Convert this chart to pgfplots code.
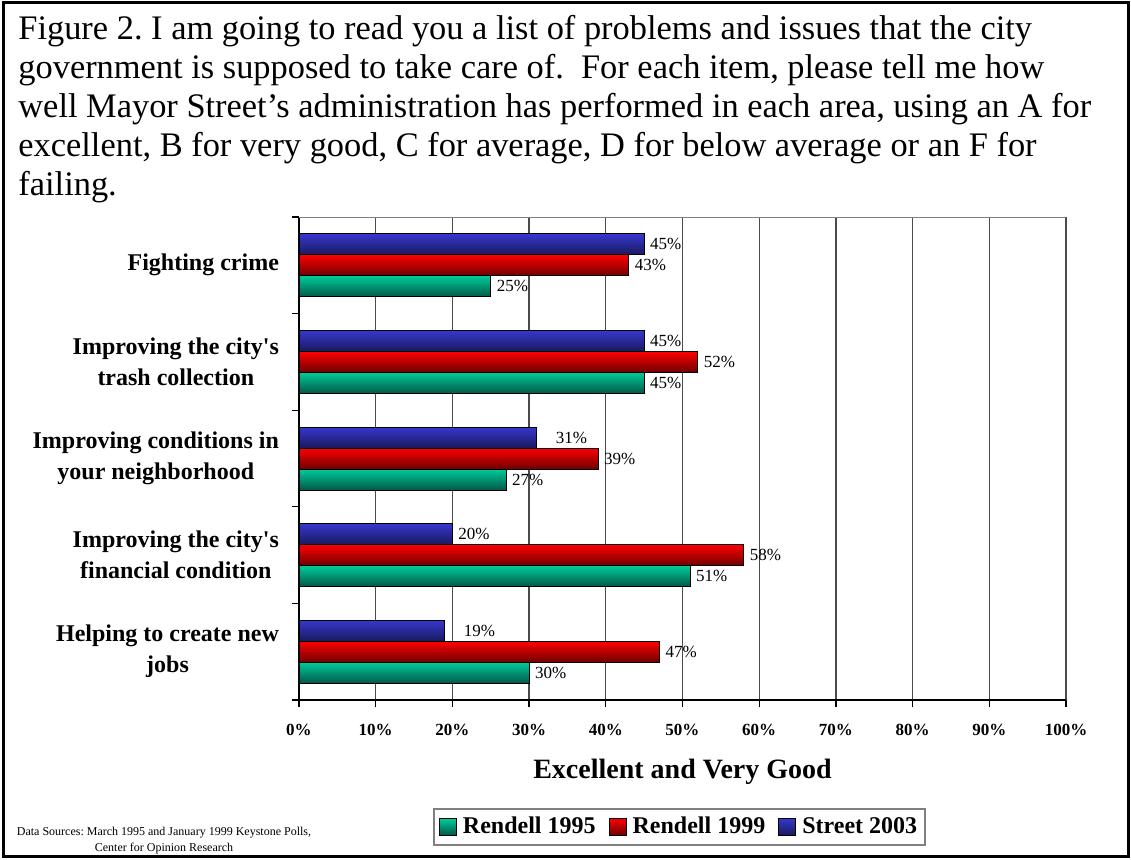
\documentclass[border=0pt]{standalone}
\usepackage{pgfplots}
\pgfplotsset{compat=1.18}
\usepackage{fontspec}
\setmainfont{Liberation Serif}
\definecolor{gtop}{RGB}{0,204,153}
\definecolor{gbot}{RGB}{0,88,72}
\definecolor{rtop}{RGB}{255,0,0}
\definecolor{rbot}{RGB}{110,0,0}
\definecolor{btop}{RGB}{55,55,205}
\definecolor{bbot}{RGB}{25,25,95}
\definecolor{gridc}{RGB}{75,75,75}
\frenchspacing
\begin{document}
\begin{tikzpicture}
\path[use as bounding box] (0,0) rectangle (565.5pt,429.5pt);
\draw[line width=1.5pt] (1.5pt,1.25pt) rectangle (564pt,428pt);
\begin{scope}[every node/.style={anchor=base west, inner sep=0pt, font=\fontsize{17.2}{19}\selectfont}]
\node at (9pt,409.5pt) {Figure 2. I am going to read you a list of problems and issues that the city};
\node at (9pt,390.1pt) {government is supposed to take care of.~ For each item, please tell me how};
\node at (9pt,370.7pt) {well Mayor Street’s administration has performed in each area, using an A for};
\node at (9pt,351.3pt) {excellent, B for very good, C for average, D for below average or an F for};
\node at (9pt,331.9pt) {failing.};
\end{scope}
\node[anchor=base, inner sep=0pt, font=\fontsize{6}{8}\selectfont] at (82pt,12pt) {Data Sources: March 1995 and January 1999 Keystone Polls,};
\node[anchor=base, inner sep=0pt, font=\fontsize{6}{8}\selectfont] at (82pt,4pt) {Center for Opinion Research};
\begin{axis}[
  at={(149.5pt,79.5pt)}, anchor=south west,
  scale only axis, width=383.5pt, height=241.5pt,
  xbar, bar width=10.5pt,
  xmin=0, xmax=100, ymin=-0.5, ymax=4.5,
  axis x line*=bottom, axis y line*=left,
  xtick={0,10,...,100},
  xticklabel={\pgfmathprintnumber{\tick}\%},
  xmajorgrids, grid style={gridc, line width=0.7pt},
  ytick={-0.5,0.5,1.5,2.5,3.5,4.5},
  y tick label as interval,
  yticklabels={Helping to create new\\jobs, Improving the city\textquotesingle s\\financial condition, Improving conditions in\\your neighborhood, Improving the city\textquotesingle s\\trash collection, Fighting crime},
  yticklabel style={align=center, font=\bfseries\fontsize{12}{15.5}\selectfont, xshift=-3pt},
  xticklabel style={font=\bfseries\fontsize{8.5}{10}\selectfont, yshift=-5pt},
  tick align=outside, major tick length=3.5pt,
  tick style={black, line width=0.6pt},
  axis line style={black, line width=0.8pt},
  /pgf/number format/assume math mode=true,
  point meta=x,
  nodes near coords={\pgfmathprintnumber{\pgfplotspointmeta}\%},
  every node near coord/.append style={font=\fontsize{8.5}{10}\selectfont, anchor=west, xshift=-0.5pt, black},
  xlabel={Excellent and Very Good},
  xlabel style={at={(axis description cs:0.5,0)}, anchor=center, yshift=-36pt, font=\bfseries\fontsize{14}{16}\selectfont},
  legend columns=3,
  legend image code/.code={\draw[#1, line width=0.5pt] (0pt,-4.25pt) rectangle (8.5pt,4.25pt);},
  legend style={at={(0.1747,-0.2236)}, anchor=north west, draw=gray, line width=1pt, font=\bfseries\fontsize{12}{14}\selectfont, inner sep=2.5pt,
    nodes={inner sep=1.5pt},
    /tikz/every odd column/.append style={column sep=1.5pt},
    /tikz/every even column/.append style={column sep=5pt}},
  legend cell align=left,
  gbar/.style={draw=black, line width=0.4pt, top color=gtop, bottom color=gbot, bar shift=-10.5pt},
  rbar/.style={draw=black, line width=0.4pt, top color=rtop, bottom color=rbot, bar shift=0pt},
  bbar/.style={draw=black, line width=0.4pt, top color=btop, bottom color=bbot, bar shift=10.5pt},
]
% Fighting crime (with legend entries)
\addplot[gbar] coordinates {(25,4)};
\addlegendentry{Rendell 1995}
\addplot[rbar] coordinates {(43,4)};
\addlegendentry{Rendell 1999}
\addplot[bbar] coordinates {(45,4)};
\addlegendentry{Street 2003}
% Trash collection
\addplot[gbar, forget plot] coordinates {(45,3)};
\addplot[rbar, forget plot] coordinates {(52,3)};
\addplot[bbar, forget plot] coordinates {(45,3)};
% Neighborhood
\addplot[gbar, forget plot] coordinates {(27,2)};
\addplot[rbar, forget plot] coordinates {(39,2)};
\addplot[bbar, forget plot, every node near coord/.append style={xshift=6.5pt}] coordinates {(31,2)};
% Financial condition
\addplot[gbar, forget plot] coordinates {(51,1)};
\addplot[rbar, forget plot] coordinates {(58,1)};
\addplot[bbar, forget plot] coordinates {(20,1)};
% New jobs
\addplot[gbar, forget plot] coordinates {(30,0)};
\addplot[rbar, forget plot] coordinates {(47,0)};
\addplot[bbar, forget plot, every node near coord/.append style={xshift=6.5pt}] coordinates {(19,0)};
\draw[gray, line width=0.8pt] (rel axis cs:0,1) -- (rel axis cs:1,1);
\end{axis}
\end{tikzpicture}
\end{document}
